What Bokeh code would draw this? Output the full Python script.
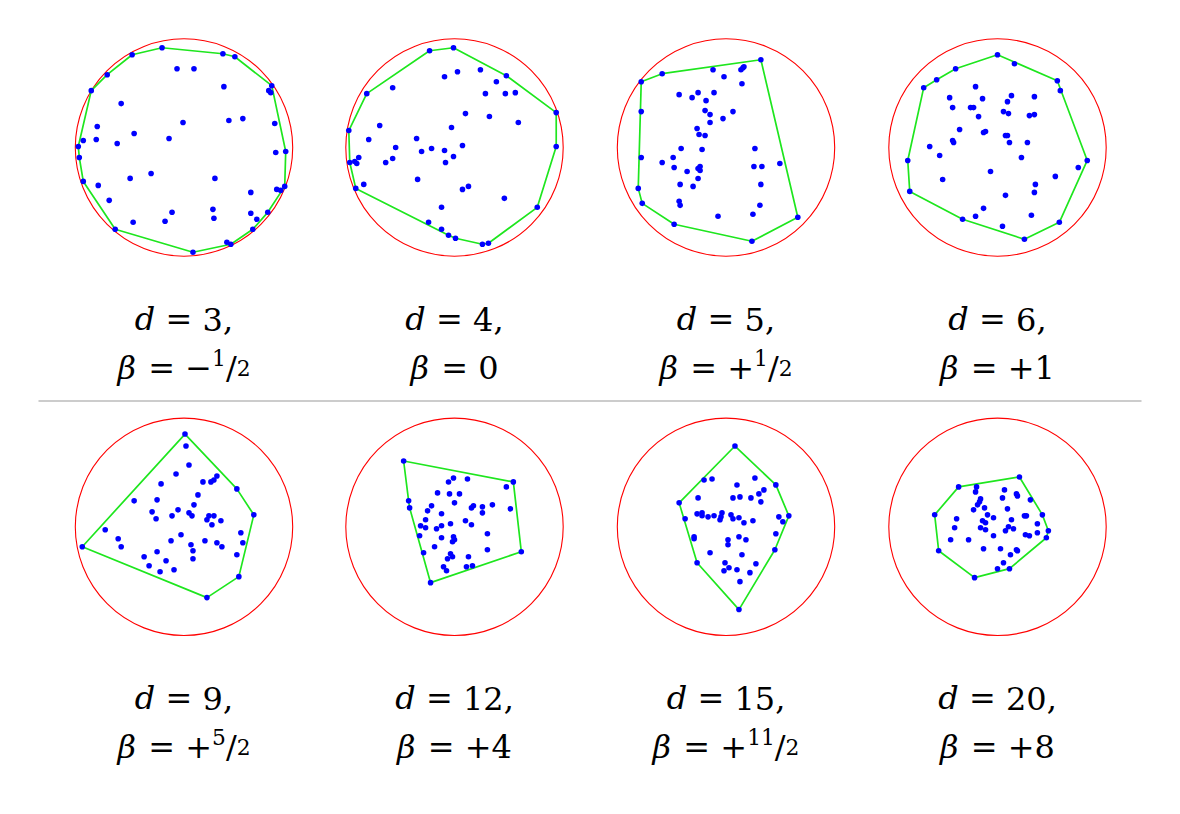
from bokeh.plotting import figure
from bokeh.models import Range1d, ColumnDataSource
from bokeh.core.properties import value
from bokeh.embed import file_html
from bokeh.resources import INLINE

# ---------------- data ----------------
D = [3, 4, 5, 6, 9, 12, 15, 20]
BETA_SIGN = ["−", "", "+", "+", "+", "+", "+", "+"]
BETA_NUM = ["1", "0", "1", "1", "5", "4", "11", "8"]
BETA_DEN = ["2", "", "2", "", "2", "", "2", ""]

# sample points, in units where the unit ball has radius UNIT
UNIT = 109.0

X_D3 = [-22, 39, 51, 88, 102, 101, 84, 69, 47, 9, -69, -101, -105, -106, -93, -77, -52,
        -7, 10, 40, 85, 87, -63, -1, 45, 59, 91, -87, -50, -15, -101, -88, -67, 92, -33,
        -54, 31, -86, 93, 97, 67, -75, 29, 30, -12, 67, 73, -19, -51, 43]
Y_D3 = [100, 94, 91, 62, -4, -39, -65, -82, -97, -105, -82, -34, -10, 1, 57, 73, 93,
        79, 79, 61, 57, 55, 44, 25, 27, 29, 24, 21, 14, 9, 7, 8, 4, -5, -26,
        -31, -31, -38, -42, -43, -45, -53, -62, -71, -65, -66, -72, -74, -75, -95]

X_D4 = [-25, -1, 52, 102, 102, 83, 34, 28, 1, -6, -13, -26, -99, -105, -106, -88,
        -62, -10, 3, 26, 42, 31, 51, 61, 11, 35, 64, -75, -3, -86, -38, -59, -33, -23,
        -10, 8, -1, -9, -62, -69, -96, -100, -98, -37, -91, 8, 14, 50, -13]
Y_D4 = [97, 100, 72, 35, 1, -60, -96, -97, -91, -88, -82, -75, -41, -15, 17, 54,
        60, 71, 76, 78, 66, 54, 54, 55, 34, 31, 25, 22, 20, 8, 9, 0, -4, -1,
        -3, 2, -9, -15, -11, -15, -10, -14, -16, -32, -37, -42, -39, -51, -60]

X_D5 = [35, 72, 26, -52, -84, -88, -85, -85, -85, -64,
        -13, -2, 15, 17, 18, 16, -47, -34, -28, -12, -20, -21, -16, 7, -3, -16, -29, -27,
        -21, -45, -24, 29, -64, -53, -52, -39, -28, -26, -26, -28, 28, 36, 54, -46, -33,
        35, -47, -46, 34, 27, -8]
Y_D5 = [88, -70, -94, -77, -56, -41, -10, 36, 66, 74,
        78, 71, 78, 80, 81, 64, 53, 50, 55, 55, 47, 37, 33, 36, 29, 25, 19, 13,
        12, -1, -2, -1, -15, -10, -20, -24, -21, -19, -23, -31, -19, -19, -16, -37, -39,
        -37, -54, -58, -58, -67, -69]

X_D6 = [0, 17, 60, 63, 90, 62, 27, -35, -88, -90, -74, -61, -42,
        -22, -48, -15, -45, -27, -24, -19, 14, 10, 37, 6, 11, 32, 37, -38, -14, -12, 8,
        10, 12, 30, -45, -44, -68, -58, 24, -7, 81, 58, -55, 38, 37, 8, -14, -22, 34, 5]
Y_D6 = [93, 84, 67, 57, -13, -75, -92, -72, -44, -13, 60, 68, 79,
        61, 50, 49, 40, 40, 40, 31, 52, 46, 51, 36, 34, 32, 33, 18, 15, 16, 12,
        12, 5, 5, 7, 5, 1, -8, -10, -24, -20, -29, -32, -37, -45, -48, -61, -69, -68, -79]

X_D9 = [1, 53, 70, 55, 23, -102,
        2, 5, -8, -23, 19, 27, 30, 33, 14, 10, -27, -50, -32, -28, -6, -12, 5, 8, 25, 30,
        23, 28, 37, 57, 59, 53, -79, -66, -63, -3, -13, 7, 9, 9, 21, 33, 38, -27, -40,
        -18, -35, -24, -10]
Y_D9 = [93, 38, 12, -50, -71, -20,
        81, 62, 53, 43, 45, 45, 47, 51, 32, 22, 27, 26, 15, 8, 17, 11, 14, 11, 11, 11,
        7, 2, 6, -6, -16, -28, -3, -12, -20, -8, -14, -18, -24, -32, -14, -16, -20, -25, -30,
        -34, -39, -45, -43]

X_D12 = [-51, 59, 67, -24,
         -1, -6, 13, 52, -17, -5, 5, -46, -45, -23, -27, 0, 19, 17, 28, 38, 56, -13, 28,
         -29, -34, -29, -18, -13, -4, 11, 17, -35, -13, -1, 0, -2, 33, -20, -31, -4, -2,
         -7, 14, 33, -11, -8, 12, 18]
Y_D12 = [66, 45, -25, -56,
         49, 45, 48, 40, 34, 33, 33, 26, 19, 21, 16, 24, 21, 19, 20, 22, 18, 13, 14,
         7, 1, -1, -2, 1, 3, 6, 2, -9, -11, -10, -13, -15, -7, -20, -26, -27, -30,
         -32, -30, -23, -40, -44, -40, -39]

X_D15 = [9, 50, 63, 49, 13, -29, -41, -47, -22,
         -14, 29, 11, 38, 33, -28, 7, 14, 25, 35, -29, -24, -24, -18, -12, -4, -5, -6, 5,
         7, 13, 18, 27, 53, 57, 50, -32, -32, 2, 2, 13, 20, -16, 16, -1, 3, -2, 11, 30,
         24, 14]
Y_D15 = [81, 42, 11, -23, -83, -36, 8, 24, 47,
         48, 49, 42, 37, 33, 29, 29, 30, 29, 25, 13, 14, 11, 10, 11, 14, 10, 7, 12,
         8, 9, 4, 6, 10, 5, -7, -10, -12, -13, -18, -10, -13, -26, -28, -36, -41, -44, -43, -37,
         -46, -55]

X_D20 = [22, 45, 51, 49, 12, 0, -23, -59, -63, -39,
         -21, -22, 7, 19, 20, 5, 33, -17, -18, -20, -13, -24, 10, -10, -4, -15, -12, 14,
         27, 29, 40, -41, -43, -17, -12, 11, 8, 16, 40, 28, 32, -47, -29, -4, -14, 3, 19,
         20, 13, 6]
Y_D20 = [50, 12, -4, -11, -42, -42, -51, -24, 12, 40,
         40, 35, 37, 33, 31, 29, 27, 28, 25, 22, 19, 17, 18, 12, 9, 6, 4, 7,
         11, 11, 3, 8, -1, -1, -3, 0, -4, -2, -6, -8, -9, -13, -13, -9, -22, -22, -23,
         -24, -28, -36]

POINTS = [(X_D3, Y_D3), (X_D4, Y_D4), (X_D5, Y_D5), (X_D6, Y_D6),
          (X_D9, Y_D9), (X_D12, Y_D12), (X_D15, Y_D15), (X_D20, Y_D20)]

# ---------------- layout (page pixels) ----------------
COL_X = [183.5, 454.0, 725.5, 997.0]
ROW_Y = [147.0, 526.3]
R_PX = 108.7
LABEL_BASE = [(318.5, 367.0), (697.8, 746.3)]
F = 32


def convex_hull(pts):
    pts = sorted(set(pts))
    if len(pts) < 3:
        return pts

    def cross(o, a, b):
        return (a[0] - o[0]) * (b[1] - o[1]) - (a[1] - o[1]) * (b[0] - o[0])
    lower, upper = [], []
    for q in pts:
        while len(lower) >= 2 and cross(lower[-2], lower[-1], q) <= 0:
            lower.pop()
        lower.append(q)
    for q in reversed(pts):
        while len(upper) >= 2 and cross(upper[-2], upper[-1], q) <= 0:
            upper.pop()
        upper.append(q)
    return lower[:-1] + upper[:-1]


p = figure(width=1164, height=798, x_range=Range1d(0, 1164), y_range=Range1d(798, 0),
           output_backend="svg", toolbar_location=None, min_border=0,
           x_axis_location=None, y_axis_location=None)
p.grid.visible = False
p.outline_line_color = None
p.background_fill_color = "white"
p.border_fill_color = "white"

cxs, cys = [], []
hull_xs, hull_ys = [], []
px, py = [], []
for i, (xs, ys) in enumerate(POINTS):
    cx = COL_X[i % 4]
    cy = ROW_Y[i // 4]
    cxs.append(cx)
    cys.append(cy)
    sx = [cx + x / UNIT * R_PX for x in xs]
    sy = [cy - y / UNIT * R_PX for y in ys]
    px += sx
    py += sy
    h = convex_hull(list(zip(sx, sy)))
    hull_xs.append([q[0] for q in h])
    hull_ys.append([q[1] for q in h])

p.circle(x=cxs, y=cys, radius=R_PX, fill_color=None, line_color="#ff0000", line_width=1.1)
p.patches(hull_xs, hull_ys, fill_color=None, line_color="#1ee61e", line_width=1.7)
p.scatter(px, py, size=5.6, fill_color="#0000ff", line_color=None)

# separator
p.segment(x0=[38], y0=[400.5], x1=[1141], y1=[400.5], line_color="#cccccc", line_width=2)

# ---------------- labels ----------------
ADV = {c: 0.636 for c in "0123456789"}
ADV.update({",": 0.318, "=": 0.838, "+": 0.838, "−": 0.838, "/": 0.337, "d": 0.64, "β": 0.64})
GAP = 0.32
SMALL = 0.68
RAISE = 0.3

runs_reg = dict(x=[], y=[], text=[], size=[])
runs_it = dict(x=[], y=[], text=[], size=[])


def place(cx, base, runs):
    items = []
    pos = 0.0
    for r in runs:
        if r[0] is None:
            pos += r[1] * F
            continue
        text, italic, scale, dy = r
        items.append((pos, text, italic, scale, dy))
        pos += sum(ADV[c] for c in text) * F * scale
    start = cx - pos / 2
    for off, text, italic, scale, dy in items:
        tgt = runs_it if italic else runs_reg
        tgt["x"].append(start + off)
        tgt["y"].append(base - dy * F)
        tgt["text"].append(text)
        tgt["size"].append("%.1fpx" % (F * scale))


for i in range(8):
    cx = COL_X[i % 4]
    b1, b2 = LABEL_BASE[i // 4]
    place(cx, b1, [("d", True, 1, 0), (None, GAP), ("=", False, 1, 0), (None, GAP),
                   (str(D[i]) + ",", False, 1, 0)])
    line2 = [("β", True, 1, 0), (None, GAP), ("=", False, 1, 0), (None, GAP)]
    if BETA_SIGN[i]:
        line2.append((BETA_SIGN[i], False, 1, 0))
    if BETA_DEN[i]:
        line2 += [(BETA_NUM[i], False, SMALL, RAISE), ("/", False, 1, 0),
                  (BETA_DEN[i], False, SMALL, 0)]
    else:
        line2.append((BETA_NUM[i], False, 1, 0))
    place(cx, b2, line2)

for src, style in ((runs_reg, "normal"), (runs_it, "italic")):
    p.text(x="x", y="y", text="text", text_font_size="size", source=ColumnDataSource(src),
           text_font=value("DejaVu Serif"), text_font_style=style, text_color="#000000",
           text_align="left", text_baseline="alphabetic")

open("out.html", "w").write(file_html(p, INLINE))
